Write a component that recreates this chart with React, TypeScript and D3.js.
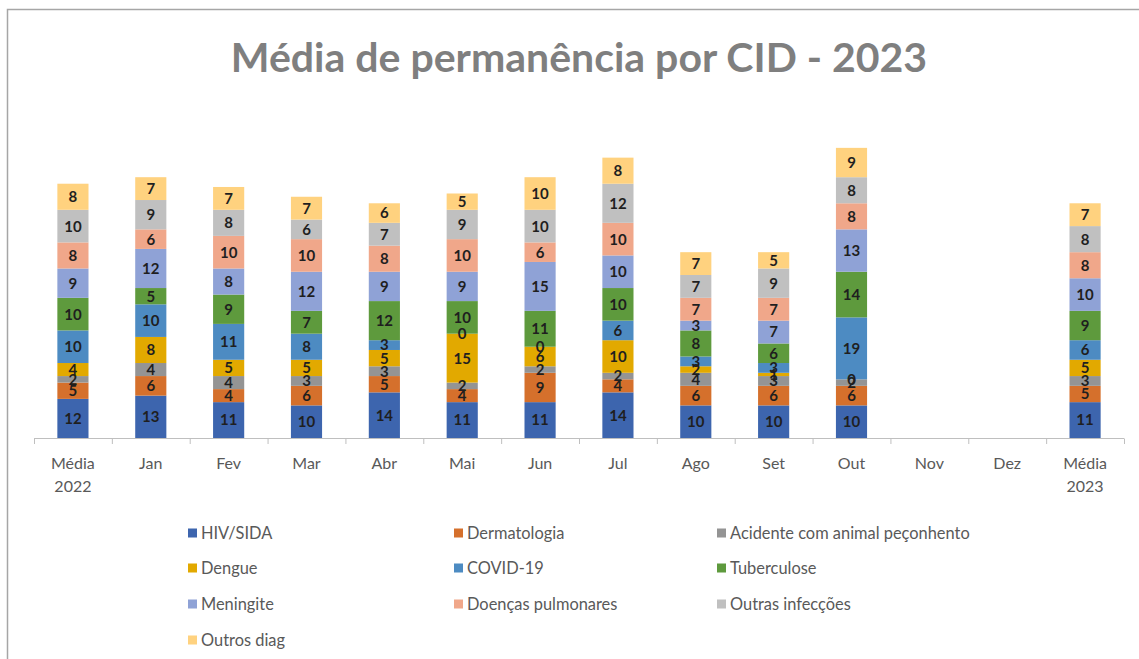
import React, { useEffect, useRef } from "react";
import * as d3 from "d3";

// categorias do eixo x
const categories = ["Média 2022", "Jan", "Fev", "Mar", "Abr", "Mai", "Jun", "Jul", "Ago", "Set", "Out", "Nov", "Dez", "Média 2023"];

const seriesNames = [
  "HIV/SIDA", "Dermatologia", "Acidente com animal peçonhento",
  "Dengue", "COVID-19", "Tuberculose",
  "Meningite", "Doenças pulmonares", "Outras infecções",
  "Outros diag",
];

const seriesColors = [
  "#3d65ae", "#d5702c", "#949494",
  "#e2a900", "#4d8bc2", "#5e9a3d",
  "#8fa2d6", "#f0a78a", "#c0c0c0",
  "#ffd27f",
];

// valores por série (null = sem dados)
const hivSida = [12, 13, 11, 10, 14, 11, 11, 14, 10, 10, 10, null, null, 11];
const dermatologia = [5, 6, 4, 6, 5, 4, 9, 4, 6, 6, 6, null, null, 5];
const acidente = [2, 4, 4, 3, 3, 2, 2, 2, 4, 3, 2, null, null, 3];
const dengue = [4, 8, 5, 5, 5, 15, 6, 10, 2, 1, 0, null, null, 5];
const covid = [10, 10, 11, 8, 3, 0, 0, 6, 3, 3, 19, null, null, 6];
const tuberculose = [10, 5, 9, 7, 12, 10, 11, 10, 8, 6, 14, null, null, 9];
const meningite = [9, 12, 8, 12, 9, 9, 15, 10, 3, 7, 13, null, null, 10];
const doencasPulm = [8, 6, 10, 10, 8, 10, 6, 10, 7, 7, 8, null, null, 8];
const outrasInf = [10, 9, 8, 6, 7, 9, 10, 12, 7, 9, 8, null, null, 8];
const outrosDiag = [8, 7, 7, 7, 6, 5, 10, 8, 7, 5, 9, null, null, 7];

const seriesValues = [hivSida, dermatologia, acidente, dengue, covid, tuberculose, meningite, doencasPulm, outrasInf, outrosDiag];

const FONT = "Lato, 'Open Sans', sans-serif";

export default function App() {
  const ref = useRef<SVGSVGElement>(null);

  useEffect(() => {
    document.body.style.margin = "0";
    const svg = d3.select(ref.current);
    svg.selectAll("*").remove();

    // moldura
    svg.append("path")
      .attr("d", "M7.5,659 V9.5 H1139")
      .attr("fill", "none")
      .attr("stroke", "#a6a6a6")
      .attr("stroke-width", 1.5);

    svg.append("text")
      .attr("x", 579)
      .attr("y", 72)
      .attr("text-anchor", "middle")
      .attr("font-family", FONT)
      .attr("font-weight", "bold")
      .attr("font-size", 41)
      .attr("fill", "#7f7f7f")
      .text("Média de permanência por CID - 2023");

    const x = d3.scaleBand<string>()
      .domain(categories)
      .range([34, 1124])
      .paddingInner(0.6)
      .paddingOuter(0.3);

    const y = d3.scaleLinear().domain([0, 100]).range([438, 112]);

    const rows = categories.map((c, i) => {
      const r: any = { cat: c };
      seriesNames.forEach((s, j) => { r[s] = seriesValues[j][i] ?? 0; });
      return r;
    });
    const stacked = d3.stack<any>().keys(seriesNames)(rows);

    const g = svg.append("g");
    stacked.forEach((layer, j) => {
      const lg = g.append("g").attr("fill", seriesColors[j]);
      lg.selectAll("rect")
        .data(layer.filter((d, i) => seriesValues[j][i] != null))
        .enter().append("rect")
        .attr("x", d => x(d.data.cat)!)
        .attr("width", x.bandwidth())
        .attr("y", d => y(d[1]))
        .attr("height", d => y(d[0]) - y(d[1]));
    });

    // rótulos de dados
    stacked.forEach((layer, j) => {
      g.append("g").selectAll("text")
        .data(layer.map((d, i) => ({ d, v: seriesValues[j][i] })).filter(o => o.v != null))
        .enter().append("text")
        .attr("x", o => x(o.d.data.cat)! + x.bandwidth() / 2)
        .attr("y", o => (y(o.d[0]) + y(o.d[1])) / 2)
        .attr("dy", "0.36em")
        .attr("text-anchor", "middle")
        .attr("font-family", FONT)
        .attr("font-weight", "bold")
        .attr("font-size", 15)
        .attr("fill", "#1f1f1f")
        .text(o => String(o.v));
    });

    // eixo x
    const axis = svg.append("g");
    axis.append("line")
      .attr("x1", 34).attr("x2", 1124)
      .attr("y1", 438.5).attr("y2", 438.5)
      .attr("stroke", "#bfbfbf");
    const step = x.step();
    axis.selectAll(".tick")
      .data(d3.range(categories.length + 1))
      .enter().append("line")
      .attr("x1", i => 34 + i * step + 0.5)
      .attr("x2", i => 34 + i * step + 0.5)
      .attr("y1", 438.5).attr("y2", 444)
      .attr("stroke", "#bfbfbf");

    const labels = axis.selectAll(".lbl")
      .data(categories)
      .enter().append("text")
      .attr("text-anchor", "middle")
      .attr("font-family", FONT)
      .attr("font-size", 16)
      .attr("fill", "#595959");
    labels.each(function (c) {
      const parts = c.split(" ");
      const t = d3.select(this);
      parts.forEach((p, k) => {
        t.append("tspan")
          .attr("x", x(c)! + x.bandwidth() / 2)
          .attr("y", 469 + k * 23)
          .text(p);
      });
    });

    // legenda
    const colX = [188, 454, 717];
    const rowY = [533, 568, 604, 640];
    const leg = svg.append("g");
    seriesNames.forEach((s, j) => {
      const cx = colX[j % 3];
      const cy = rowY[Math.floor(j / 3)];
      leg.append("rect")
        .attr("x", cx).attr("y", cy - 4.5)
        .attr("width", 9).attr("height", 9)
        .attr("fill", seriesColors[j]);
      leg.append("text")
        .attr("x", cx + 13).attr("y", cy)
        .attr("dy", "0.35em")
        .attr("font-family", FONT)
        .attr("font-size", 16.4)
        .attr("fill", "#595959")
        .text(s);
    });
  }, []);

  return <svg ref={ref} width={1139} height={659} style={{ display: "block" }} />;
}
